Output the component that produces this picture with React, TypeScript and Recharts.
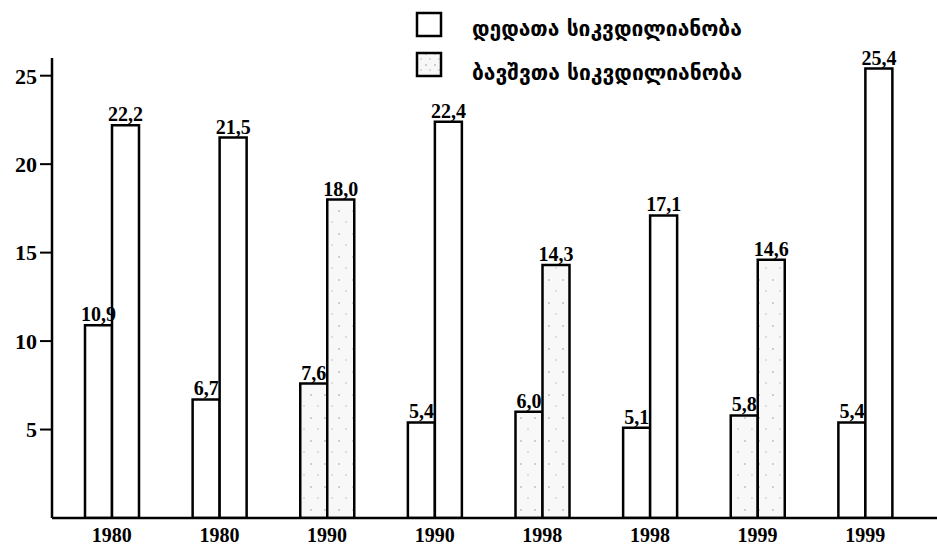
import React from 'react';
import { BarChart, Bar, XAxis, YAxis, Cell, LabelList } from 'recharts';

const years = ['1980', '1980', '1990', '1990', '1998', '1998', '1999', '1999'];
const leftValues = [10.9, 6.7, 7.6, 5.4, 6.0, 5.1, 5.8, 5.4];
const rightValues = [22.2, 21.5, 18.0, 22.4, 14.3, 17.1, 14.6, 25.4];
const seriesNames = ['დედათა სიკვდილიანობა', 'ბავშვთა სიკვდილიანობა'];
const yTicks = [5, 10, 15, 20, 25];

// pairs drawn with the dotted fill in the scan
const speckledPairs = [2, 4, 6];

const data = years.map((year, i) => ({ year, left: leftValues[i], right: rightValues[i] }));

const numFont = { fontFamily: '"Liberation Serif", serif', fontWeight: 700, fontSize: 20, fill: '#000' };
const fmt = (v: any) => String(v.toFixed ? v.toFixed(1) : v).replace('.', ',');

const fillFor = (i: number) => (speckledPairs.includes(i) ? 'url(#speckle)' : '#fff');

const LegendBox = ({ speckled, top }: { speckled?: boolean; top: number }) => (
  <svg width={28} height={28} style={{ position: 'absolute', left: 415, top }}>
    {speckled && (
      <defs>
        <pattern id="speckleLegend" width="9" height="11" patternUnits="userSpaceOnUse">
          <rect width="9" height="11" fill="#f7f7f7" />
          <circle cx="2" cy="3" r="0.8" fill="#999" />
          <circle cx="6" cy="8" r="0.7" fill="#aaa" />
        </pattern>
      </defs>
    )}
    <rect x={2} y={2} width={24} height={23} fill={speckled ? 'url(#speckleLegend)' : '#fff'} stroke="#000" strokeWidth={2.5} />
  </svg>
);

const legendText = {
  position: 'absolute' as const,
  left: 472,
  fontFamily: '"DejaVu Sans", sans-serif',
  fontWeight: 700,
  fontSize: 21,
  lineHeight: '24px',
  whiteSpace: 'nowrap' as const,
};

export default function App() {
  return (
    <div style={{ position: 'absolute', left: 0, top: 0, width: 937, height: 549, background: '#fff' }}>
      <BarChart
        width={937}
        height={549}
        data={data}
        margin={{ top: 58, right: 0, bottom: 0, left: 0 }}
        barGap={0}
      >
        <defs>
          <pattern id="speckle" width="14" height="23" patternUnits="userSpaceOnUse">
            <rect width="14" height="23" fill="#f8f8f8" />
            <circle cx="3" cy="4" r="0.8" fill="#9a9a9a" />
            <circle cx="10" cy="15" r="0.7" fill="#b0b0b0" />
          </pattern>
        </defs>
        <YAxis
          width={52}
          domain={[0, 26]}
          ticks={yTicks}
          interval={0}
          allowDataOverflow
          axisLine={{ stroke: '#000', strokeWidth: 2.5 }}
          tickLine={{ stroke: '#000', strokeWidth: 2 }}
          tickSize={12}
          tickMargin={3}
          tick={{ ...numFont, fontSize: 22 }}
        />
        <XAxis
          dataKey="year"
          height={31}
          interval={0}
          padding={{ left: 6, right: 18 }}
          axisLine={{ stroke: '#000', strokeWidth: 2.5 }}
          tickLine={false}
          tickSize={4}
          tickMargin={6}
          tick={{ ...numFont, fontSize: 20 }}
        />
        <Bar dataKey="left" name={seriesNames[0]} barSize={27} stroke="#000" strokeWidth={2.5} isAnimationActive={false}>
          {data.map((_, i) => (
            <Cell key={i} fill={fillFor(i)} />
          ))}
          <LabelList dataKey="left" position="top" offset={4} formatter={fmt} style={numFont} />
        </Bar>
        <Bar dataKey="right" name={seriesNames[1]} barSize={27} stroke="#000" strokeWidth={2.5} isAnimationActive={false}>
          {data.map((_, i) => (
            <Cell key={i} fill={fillFor(i)} />
          ))}
          <LabelList dataKey="right" position="top" offset={4} formatter={fmt} style={numFont} />
        </Bar>
      </BarChart>
      <LegendBox top={11} />
      <div style={{ ...legendText, top: 17 }}>{seriesNames[0]}</div>
      <LegendBox top={51} speckled />
      <div style={{ ...legendText, top: 61 }}>{seriesNames[1]}</div>
    </div>
  );
}
